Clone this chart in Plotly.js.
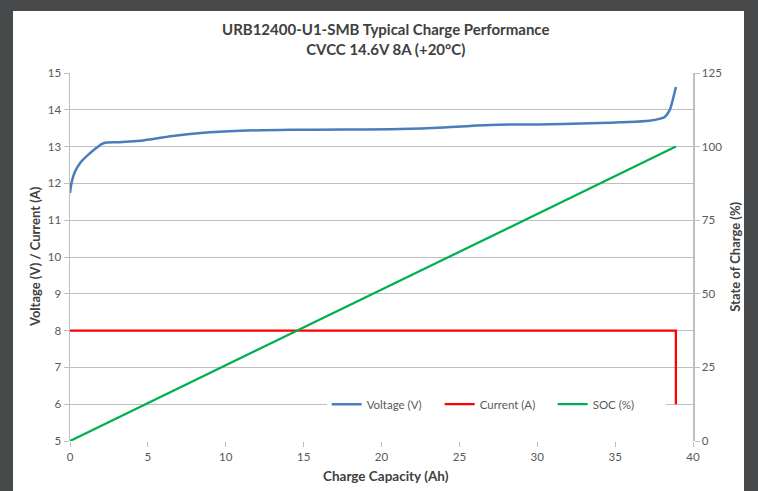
<!DOCTYPE html>
<html>
<head>
<meta charset="utf-8">
<script src="https://cdn.plot.ly/plotly-3.0.1.min.js"></script>
<style>
  html, body { margin: 0; padding: 0; background: #48494b; width: 758px; height: 491px; overflow: hidden; }
  #chart { position: absolute; left: 13px; top: 11px; width: 731px; height: 480px; background: #ffffff; }
</style>
</head>
<body>
<div id="chart"></div>
<script>
// Voltage curve (Ah, V)
const voltageCap = [0, 0.1, 0.3, 0.64, 1.28, 1.71, 2.15, 3.2, 4.5, 6.6, 8.4, 10.9, 15, 21.2, 24, 25.7, 27, 30.8, 34, 35.3, 37.2, 37.9, 38.2, 38.5, 38.7, 38.9];
const voltageV   = [11.74, 12.02, 12.3, 12.55, 12.82, 12.97, 13.09, 13.12, 13.16, 13.29, 13.37, 13.43, 13.46, 13.48, 13.52, 13.56, 13.59, 13.61, 13.64, 13.66, 13.70, 13.76, 13.81, 13.99, 14.27, 14.62];
// Current (Ah, A)
const currentCap = [0, 38.9, 38.9];
const currentA   = [8, 8, 6];
// State of charge (Ah, %)
const socCap = [0, 38.9];
const socPct = [0, 100];

const xTicks = [0, 5, 10, 15, 20, 25, 30, 35, 40];
const yTicks = [5, 6, 7, 8, 9, 10, 11, 12, 13, 14, 15];
const y2Ticks = [0, 25, 50, 75, 100, 125];

const FONT = 'Lato, "Open Sans", sans-serif';
const GRID = '#bfbfbf';
const TICKCOL = '#595959';
const TITLECOL = '#404040';

const traces = [
  { x: voltageCap, y: voltageV, name: 'Voltage (V)', type: 'scatter', mode: 'lines',
    line: { color: '#4a7ebb', width: 2.5, shape: 'spline', smoothing: 1 }, yaxis: 'y' },
  { x: currentCap, y: currentA, name: 'Current (A)', type: 'scatter', mode: 'lines',
    line: { color: '#ff0000', width: 2.25 }, yaxis: 'y' },
  { x: socCap, y: socPct, name: 'SOC (%)', type: 'scatter', mode: 'lines',
    line: { color: '#00b050', width: 2.25 }, yaxis: 'y2' }
];

const layout = {
  width: 731, height: 480,
  paper_bgcolor: '#ffffff', plot_bgcolor: '#ffffff',
  margin: { l: 57, r: 51, t: 62, b: 50, autoexpand: false },
  font: { family: FONT, color: TICKCOL, size: 11.5 },
  annotations: [
    { text: '<b>URB12400-U1-SMB Typical Charge Performance<br>CVCC 14.6V 8A (+20°C)</b>',
      font: { family: FONT, size: 15, color: TITLECOL },
      xref: 'paper', x: 0.507, xanchor: 'center',
      yref: 'paper', y: 1.093, yanchor: 'middle',
      showarrow: false, align: 'center' },
    { text: '<b>Charge Capacity (Ah)</b>',
      font: { family: FONT, size: 13.5, color: TITLECOL },
      xref: 'paper', x: 0.507, xanchor: 'center',
      yref: 'paper', y: -0.095, yanchor: 'middle', showarrow: false },
    { text: '<b>Voltage (V) / Current (A)</b>', textangle: -90,
      font: { family: FONT, size: 13, color: TITLECOL },
      xref: 'paper', x: -0.056, xanchor: 'center',
      yref: 'paper', y: 0.5, yanchor: 'middle', showarrow: false },
    { text: '<b>State of Charge (%)</b>', textangle: -90,
      font: { family: FONT, size: 13, color: TITLECOL },
      xref: 'paper', x: 1.067, xanchor: 'center',
      yref: 'paper', y: 0.5, yanchor: 'middle', showarrow: false }
  ],
  xaxis: {
    range: [0, 40], tickvals: xTicks, ticktext: xTicks.map(String),
    showgrid: false, zeroline: false, showline: false, automargin: false,
    ticks: 'outside', ticklen: 5, tickcolor: GRID, tickwidth: 1,
    tickfont: { family: FONT, size: 11.5, color: TICKCOL }
  },
  yaxis: {
    range: [5, 15], tickvals: yTicks, ticktext: yTicks.map(String),
    showgrid: true, gridcolor: GRID, gridwidth: 1, zeroline: false, automargin: false,
    showline: true, linecolor: GRID, linewidth: 1.5,
    ticks: 'outside', ticklen: 5, tickcolor: GRID,
    tickfont: { family: FONT, size: 11.5, color: TICKCOL }
  },
  yaxis2: {
    range: [0, 125], tickvals: y2Ticks, ticktext: y2Ticks.map(String),
    overlaying: 'y', side: 'right', showgrid: false, zeroline: false, automargin: false,
    showline: true, linecolor: GRID, linewidth: 1.5,
    ticks: 'outside', ticklen: 5, tickcolor: GRID,
    tickfont: { family: FONT, size: 11.5, color: TICKCOL }
  },
  showlegend: true,
  legend: {
    orientation: 'h', x: 0.412, xanchor: 'left', y: 0.10, yanchor: 'middle',
    bgcolor: '#ffffff', borderwidth: 0,
    font: { family: FONT, size: 11.5, color: TICKCOL },
    itemwidth: 30, entrywidth: 68, entrywidthmode: 'pixels',
    tracegroupgap: 0
  }
};

Plotly.newPlot('chart', traces, layout, { displayModeBar: false, staticPlot: true });
</script>
</body>
</html>
